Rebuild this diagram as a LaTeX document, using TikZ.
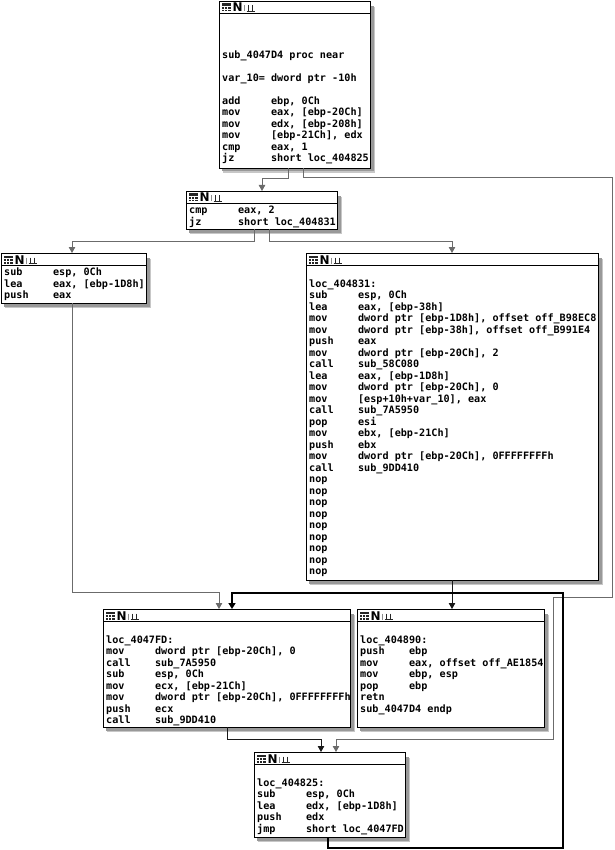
\documentclass[tikz,border=0pt]{standalone}
\usepackage{fontspec}
\usetikzlibrary{arrows.meta}

\newfontfamily\idafont{DejaVu Sans Mono}
\newfontfamily\hdrfont{DejaVu Sans}

% listing font: one row is exactly 11.5pt high
\newcommand\asmfont{\idafont\bfseries\fontsize{10.15}{11.5}\selectfont}
\newlength\cw
\newcommand\rowstrut{\rule[-3pt]{0pt}{11.5pt}}
\newcommand\ins[2]{\rowstrut\makebox[8\cw][l]{#1}#2}
\newcommand\txt[1]{\rowstrut#1}
\newcommand\gap{\rowstrut}

\tikzset{
  blockbox/.style={draw=black, line width=0.9pt, fill=white, inner sep=0pt, outer sep=0pt},
  shadowouter/.style={fill=black!22},
  shadowinner/.style={fill=black!40},
  edgegray/.style={draw=black!58, line width=0.8pt, -{Triangle[width=6.5pt,length=6pt]}},
  edgedark/.style={draw=black!90, line width=0.8pt, -{Triangle[width=6.5pt,length=6pt]}},
  edgeback/.style={draw=black, line width=1.7pt, -{Triangle[width=7pt,length=6pt]}},
}

% name, left, top, width, height, rows
\newcommand\asmblock[6]{%
  \fill[shadowouter] (#2+4,#3+6) rectangle (#2+#4+5,#3+#5+5);
  \fill[shadowinner] (#2+3,#3+5) rectangle (#2+#4+3.5,#3+#5+3.5);
  \node[blockbox, minimum width=#4pt, minimum height=#5pt, anchor=north west] (#1) at (#2,#3) {};
  \draw[black, line width=0.8pt] (#2,#3+12.5) -- (#2+#4,#3+12.5);
  % header icons: table, N, graph
  \fill[black!85] (#2+2.5,#3+2.5) rectangle (#2+11.5,#3+10.5);
  \draw[white, line width=0.6pt] (#2+2.5,#3+5.2) -- (#2+11.5,#3+5.2) (#2+2.5,#3+7.9) -- (#2+11.5,#3+7.9)
        (#2+5.5,#3+5.2) -- (#2+5.5,#3+10.5) (#2+8.5,#3+5.2) -- (#2+8.5,#3+10.5);
  \node[inner sep=0pt, anchor=base west, font=\hdrfont\bfseries\fontsize{12}{12}\selectfont] (#1-n) at (#2+13.5,#3+11) {N};
  \draw[black!45, line width=0.7pt] (#2+25,#3+4.5) -- (#2+25,#3+10.5);
  \draw[black!85, line width=0.7pt] (#2+27.5,#3+10.5) -- (#2+35.5,#3+10.5)
        (#2+29.5,#3+4.5) -- (#2+29.5,#3+10.5) (#2+33.5,#3+4.5) -- (#2+33.5,#3+10.5);
  \node[anchor=north west, inner sep=0pt, align=left, font=\asmfont] (#1-text) at (#2+3,#3+14) {#6};
}

\begin{document}
\settowidth\cw{\asmfont 0}
\begin{tikzpicture}[x=1pt, y=-1pt]
\useasboundingbox (0,0) rectangle (614,850);

\asmblock{A}{219}{1}{151}{167}{%
\gap\\ \gap\\ \gap\\
\txt{sub\_4047D4 proc near}\\
\gap\\
\txt{var\_10= dword ptr -10h}\\
\gap\\
\ins{add}{ebp, 0Ch}\\
\ins{mov}{eax, [ebp-20Ch]}\\
\ins{mov}{edx, [ebp-208h]}\\
\ins{mov}{[ebp-21Ch], edx}\\
\ins{cmp}{eax, 1}\\
\ins{jz}{short loc\_404825}}

\asmblock{B}{186}{191}{151}{38}{%
\ins{cmp}{eax, 2}\\
\ins{jz}{short loc\_404831}}

\asmblock{C}{1}{253}{145}{50}{%
\ins{sub}{esp, 0Ch}\\
\ins{lea}{eax, [ebp-1D8h]}\\
\ins{push}{eax}}

\asmblock{D}{306}{253}{292}{327}{%
\gap\\
\txt{loc\_404831:}\\
\ins{sub}{esp, 0Ch}\\
\ins{lea}{eax, [ebp-38h]}\\
\ins{mov}{dword ptr [ebp-1D8h], offset off\_B98EC8}\\
\ins{mov}{dword ptr [ebp-38h], offset off\_B991E4}\\
\ins{push}{eax}\\
\ins{mov}{dword ptr [ebp-20Ch], 2}\\
\ins{call}{sub\_58C080}\\
\ins{lea}{eax, [ebp-1D8h]}\\
\ins{mov}{dword ptr [ebp-20Ch], 0}\\
\ins{mov}{[esp+10h+var\_10], eax}\\
\ins{call}{sub\_7A5950}\\
\ins{pop}{esi}\\
\ins{mov}{ebx, [ebp-21Ch]}\\
\ins{push}{ebx}\\
\ins{mov}{dword ptr [ebp-20Ch], 0FFFFFFFFh}\\
\ins{call}{sub\_9DD410}\\
\txt{nop}\\ \txt{nop}\\ \txt{nop}\\ \txt{nop}\\ \txt{nop}\\
\txt{nop}\\ \txt{nop}\\ \txt{nop}\\ \txt{nop}}

\asmblock{E}{103}{609}{247}{118}{%
\gap\\
\txt{loc\_4047FD:}\\
\ins{mov}{dword ptr [ebp-20Ch], 0}\\
\ins{call}{sub\_7A5950}\\
\ins{sub}{esp, 0Ch}\\
\ins{mov}{ecx, [ebp-21Ch]}\\
\ins{mov}{dword ptr [ebp-20Ch], 0FFFFFFFFh}\\
\ins{push}{ecx}\\
\ins{call}{sub\_9DD410}}

\asmblock{F}{357}{609}{187}{118}{%
\gap\\
\txt{loc\_404890:}\\
\ins{push}{ebp}\\
\ins{mov}{eax, offset off\_AE1854}\\
\ins{mov}{ebp, esp}\\
\ins{pop}{ebp}\\
\ins{retn}{}\\
\txt{sub\_4047D4 endp}}

\asmblock{G}{254}{752}{151}{85}{%
\gap\\
\txt{loc\_404825:}\\
\ins{sub}{esp, 0Ch}\\
\ins{lea}{edx, [ebp-1D8h]}\\
\ins{push}{edx}\\
\ins{jmp}{short loc\_4047FD}}

% route corners
\coordinate (ag1) at (612,177);
\coordinate (ag2) at (553,597);
\coordinate (ag3) at (336,739);
\coordinate (ce1) at (219,592);
\coordinate (ge1) at (563,848);
\coordinate (ge2) at (232,593);

% conditional branches
\draw[edgegray] ([xshift=69pt]A.south west) -- ++(0,10) -| ([xshift=76pt]B.north west);
\draw[edgegray] ([xshift=84pt]A.south west) |- (ag1) |- (ag2) |- (ag3) -- ([xshift=82pt]G.north west);
\draw[edgegray] ([xshift=68pt]B.south west) -- ++(0,12) -| ([xshift=71pt]C.north west);
\draw[edgegray] ([xshift=83pt]B.south west) -- ++(0,12) -| ([xshift=146pt]D.north west);

% fall-through edges
\draw[edgegray] ([xshift=71pt]C.south west) |- (ce1) -- ([xshift=116pt]E.north west);
\draw[edgedark] ([xshift=146pt]D.south west) -- ([xshift=95pt]F.north west);
\draw[edgedark] ([xshift=124pt]E.south west) -- ++(0,12) -| ([xshift=67pt]G.north west);

% backward jump
\draw[edgeback] ([xshift=74pt]G.south west) |- (ge1) |- (ge2) -- ([xshift=129pt]E.north west);
\end{tikzpicture}
\end{document}
